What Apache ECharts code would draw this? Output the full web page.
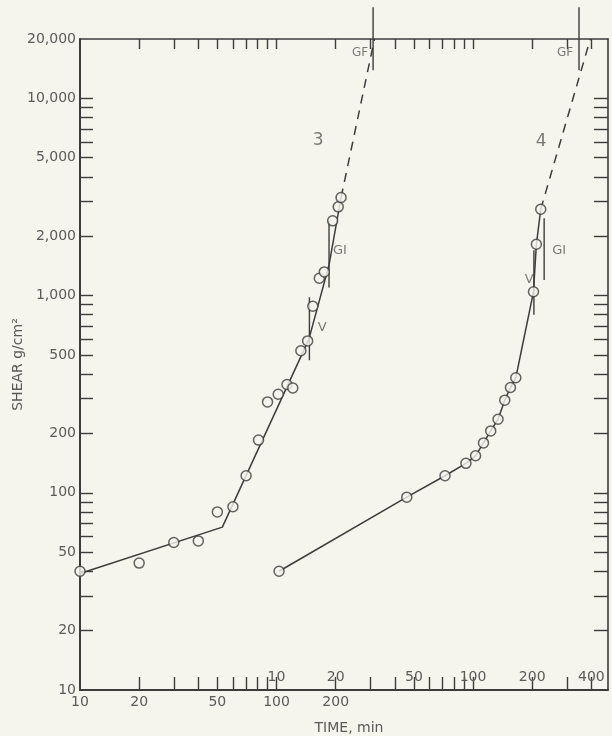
<!DOCTYPE html>
<html>
<head>
<meta charset="utf-8">
<script src="https://cdn.jsdelivr.net/npm/echarts@6/dist/echarts.min.js"></script>
<style>
  html, body { margin: 0; padding: 0; background: #f5f5ed; }
  #chart { width: 612px; height: 736px; }
</style>
</head>
<body>
<div id="chart"></div>
<script>
// curve 3 (lower time scale)
const time3 = [10, 20, 30, 40, 50, 60, 70, 81, 90, 102, 113, 121, 133, 144, 153, 165, 175, 193, 206, 213];
const shear3 = [40, 44, 56, 57, 80, 85, 122, 185, 289, 316, 354, 340, 525, 589, 883, 1224, 1318, 2393, 2818, 3145];
const fit3Time = [10, 53, 146, 185, 213];
const fit3Shear = [39, 67, 600, 1430, 3145];
const dash3Time = [213, 315];
const dash3Shear = [3145, 20000];

// curve 4 (upper time scale)
const time4 = [10.3, 46, 72, 92, 103, 113, 123, 134, 145, 155, 165, 203, 210, 221];
const shear4 = [40, 95, 122, 141, 154, 179, 206, 236, 295, 342, 383, 1045, 1820, 2740];
const fit4Time = [10.3, 46, 72, 92, 103, 113, 123, 134, 145, 155, 165, 203, 210, 221];
const fit4Shear = [40, 95, 122, 141, 154, 179, 206, 236, 295, 342, 383, 1045, 1820, 2740];
const dash4Time = [221, 395];
const dash4Shear = [2740, 20000];

// stage markers: [time, shear low, shear high]
const marks3 = [[147, 470, 980], [185, 1100, 2400], [310, 13900, 29000]];
const marks4 = [[204, 800, 1700], [230, 1200, 2470], [346, 13900, 29000]];

// text notes: [time, shear, text, size]
const notes3 = [[163, 6140, '3', 17], [171, 684, 'V', 13], [210, 1700, 'GI', 13], [266, 16950, 'GF', 12]];
const notes4 = [[222, 6070, '4', 17], [193, 1200, 'V', 13], [274, 1700, 'GI', 13], [294, 16950, 'GF', 12]];

// axes
const xMinA = 10, xMaxA = 4860;
const xMinB = 1, xMaxB = 486;
const xLabelsA = [10, 20, 50, 100, 200];
const xLabelsB = [10, 20, 50, 100, 200, 400];
const xTicks = [20, 30, 40, 50, 60, 70, 80, 90, 100, 200, 300, 400, 500, 600, 700, 800, 900, 1000, 2000, 3000, 4000];
const yLabels = [10, 20, 50, 100, 200, 500, 1000, 2000, 5000, 10000, 20000];
const yTicks = [20, 30, 40, 50, 60, 70, 80, 90, 100, 200, 300, 400, 500, 600, 700, 800, 900,
  1000, 2000, 3000, 4000, 5000, 6000, 7000, 8000, 9000, 10000];

const ink = '#3c3c3c';
const textColor = '#5a5a5a';
const font = 'DejaVu Sans';

const zip = (a, b) => a.map((v, i) => [v, b[i]]);

const chart = echarts.init(document.getElementById('chart'), null, { renderer: 'canvas' });

function markerSeries(list, xIdx) {
  return list.map(m => ({
    type: 'line', xAxisIndex: xIdx, yAxisIndex: 0,
    data: [[m[0], m[1]], [m[0], m[2]]],
    showSymbol: false, clip: false, silent: true,
    lineStyle: { color: ink, width: 1.4 }, z: 3
  }));
}

function noteSeries(list, xIdx) {
  return {
    type: 'scatter', xAxisIndex: xIdx, yAxisIndex: 0, symbolSize: 0, silent: true,
    data: list.map(n => ({
      name: n[2], value: [n[0], n[1]],
      label: { fontSize: n[3] }
    })),
    label: {
      show: true, position: 'inside', formatter: '{b}', color: textColor,
      fontFamily: font
    },
    z: 5
  };
}

const baseX = {
  type: 'log', logBase: 10,
  splitLine: { show: false }, minorTick: { show: false }, minorSplitLine: { show: false }
};

const tickText = { color: textColor, fontFamily: font, fontSize: 14 };

const option = {
  backgroundColor: '#f5f5ed',
  animation: false,
  grid: { left: 80, right: 4, top: 39, bottom: 46, containLabel: false, outerBoundsMode: 'none' },
  xAxis: [
    Object.assign({}, baseX, {
      min: xMinA, max: xMaxA, position: 'bottom',
      axisLine: { show: true, lineStyle: { color: ink, width: 2 } },
      axisTick: { show: true, inside: true, length: 13, customValues: xTicks, lineStyle: { color: ink, width: 1.4 } },
      axisLabel: Object.assign({ customValues: xLabelsA, margin: 5 }, tickText),
      name: 'TIME, min', nameLocation: 'middle', nameGap: 31, nameMoveOverlap: false,
      nameTextStyle: { color: textColor, fontFamily: font, fontSize: 14, padding: [0, 0, 0, 10] }
    }),
    Object.assign({}, baseX, {
      min: xMinB, max: xMaxB, position: 'bottom',
      axisLine: { show: false }, axisTick: { show: false },
      axisLabel: Object.assign({ inside: true, customValues: xLabelsB, margin: 6 }, tickText)
    }),
    Object.assign({}, baseX, {
      min: xMinA, max: xMaxA, position: 'top',
      axisLine: { show: true, lineStyle: { color: ink, width: 1.6 } },
      axisTick: { show: true, inside: true, length: 10, customValues: xTicks, lineStyle: { color: ink, width: 1.4 } },
      axisLabel: { show: false }
    })
  ],
  yAxis: [
    {
      type: 'log', logBase: 10, min: 10, max: 20000, position: 'left',
      splitLine: { show: false }, minorTick: { show: false },
      axisLine: { show: true, lineStyle: { color: ink, width: 2 } },
      axisTick: { show: true, inside: true, length: 13, customValues: yTicks, lineStyle: { color: ink, width: 1.4 } },
      axisLabel: Object.assign({
        customValues: yLabels, margin: 4,
        formatter: v => Number(v).toLocaleString('en-US')
      }, tickText),
      name: 'SHEAR g/cm\u00b2', nameLocation: 'middle', nameGap: 55, nameRotate: 90, nameMoveOverlap: false,
      nameTextStyle: { color: textColor, fontFamily: font, fontSize: 14 }
    },
    {
      type: 'log', logBase: 10, min: 10, max: 20000, position: 'right',
      splitLine: { show: false }, minorTick: { show: false },
      axisLine: { show: true, lineStyle: { color: ink, width: 1.6 } },
      axisTick: { show: true, inside: true, length: 14, customValues: yTicks, lineStyle: { color: ink, width: 1.4 } },
      axisLabel: { show: false }
    }
  ],
  series: [
    {
      type: 'line', xAxisIndex: 0, yAxisIndex: 0, data: zip(fit3Time, fit3Shear),
      showSymbol: false, lineStyle: { color: ink, width: 1.5 }, z: 2
    },
    {
      type: 'line', xAxisIndex: 0, yAxisIndex: 0, data: zip(dash3Time, dash3Shear),
      showSymbol: false, lineStyle: { color: ink, width: 1.5, type: [9, 7] }, z: 2
    },
    {
      type: 'line', xAxisIndex: 1, yAxisIndex: 0, data: zip(fit4Time, fit4Shear),
      showSymbol: false, lineStyle: { color: ink, width: 1.5 }, z: 2
    },
    {
      type: 'line', xAxisIndex: 1, yAxisIndex: 0, data: zip(dash4Time, dash4Shear),
      showSymbol: false, lineStyle: { color: ink, width: 1.5, type: [9, 7] }, z: 2
    },
    ...markerSeries(marks3, 0),
    ...markerSeries(marks4, 1),
    {
      type: 'scatter', xAxisIndex: 0, yAxisIndex: 0, data: zip(time3, shear3),
      symbol: 'circle', symbolSize: 10,
      itemStyle: { color: '#f5f5ed', borderColor: ink, borderWidth: 1.5 }, z: 4
    },
    {
      type: 'scatter', xAxisIndex: 1, yAxisIndex: 0, data: zip(time4, shear4),
      symbol: 'circle', symbolSize: 10,
      itemStyle: { color: '#f5f5ed', borderColor: ink, borderWidth: 1.5 }, z: 4
    },
    noteSeries(notes3, 0),
    noteSeries(notes4, 1)
  ]
};

chart.setOption(option);
window.addEventListener('resize', () => chart.resize());
</script>
</body>
</html>
